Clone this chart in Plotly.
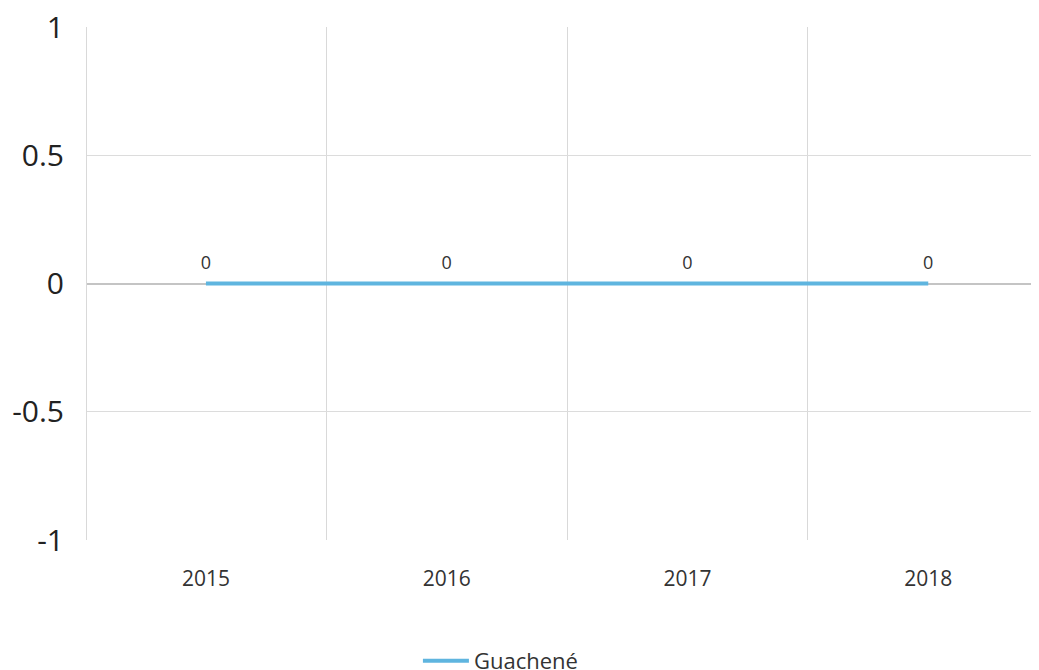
import plotly.graph_objects as go

years = ["2015", "2016", "2017", "2018"]
values = [0, 0, 0, 0]
labels = ["0", "0", "0", "0"]
series_name = "Guachené"
y_ticks = [-1, -0.5, 0, 0.5, 1]
y_tick_text = ["-1", "-0.5", "0", "0.5", "1"]

FONT = "Open Sans, Noto Sans, sans-serif"

fig = go.Figure()
fig.add_trace(go.Scatter(
    x=years, y=values, name=series_name,
    mode="lines+markers+text", text=labels, textposition="top center",
    textfont=dict(family=FONT, size=18, color="#333333"),
    marker=dict(size=15, color="rgba(0,0,0,0)"),
    line=dict(color="#5fb5df", width=4),
))

fig.update_layout(
    width=1031, height=662,
    margin=dict(l=79, r=0, t=19, b=130, autoexpand=False),
    paper_bgcolor="white", plot_bgcolor="white",
    font=dict(family=FONT, color="#222222"),
    showlegend=True,
    legend=dict(orientation="h", x=0.3476, xanchor="left", y=-0.236, yanchor="middle",
                itemwidth=46,
                font=dict(family=FONT, size=22, color="#333333")),
    xaxis=dict(type="category", range=[-0.494, 3.46], tickson="boundaries",
               showgrid=True, gridcolor="#d9d9d9", gridwidth=1,
               ticks="", showline=False, zeroline=False, automargin=False,
               ticklabeloverflow="allow",
               tickfont=dict(family=FONT, size=21, color="#333333"),
               ticklabelstandoff=24),
    yaxis=dict(range=[-1, 1], tickvals=y_ticks, ticktext=y_tick_text,
               showgrid=True, gridcolor="#dcdcdc", gridwidth=1,
               zeroline=True, zerolinecolor="#c4c4c4", zerolinewidth=2,
               showline=True, linecolor="#d9d9d9", linewidth=1, automargin=False,
               ticklabeloverflow="allow",
               ticks="", tickfont=dict(family=FONT, size=30, color="#222222"),
               ticklabelstandoff=16),
)

fig.write_html("out.html")
